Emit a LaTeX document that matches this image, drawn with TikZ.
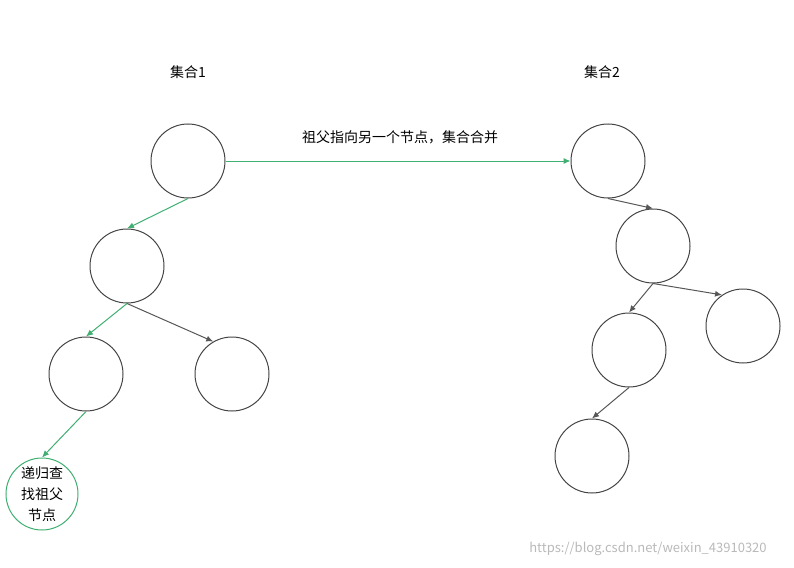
\documentclass[tikz,border=0pt]{standalone}
\usepackage{fontspec}
\setmainfont{Noto Sans CJK SC}
\usetikzlibrary{arrows.meta}
\definecolor{gr}{HTML}{3FAF72}
\definecolor{dk}{HTML}{444444}
\begin{document}
\begin{tikzpicture}[x=1pt,y=-1pt,font=\fontsize{14}{17}\selectfont,
  nd/.style={circle,draw=dk,line width=1pt,minimum size=74pt,inner sep=0pt},
  ga/.style={draw=gr,line width=1pt,-{Latex[length=7pt,width=6pt]}},
  da/.style={draw=dk!90,line width=1pt,-{Latex[length=7pt,width=6pt]}}]
\useasboundingbox (0,0) rectangle (794,567);
\node (l1) at (188,72) {集合1};
\node (l2) at (602,72) {集合2};
\node (lm) at (400,137) {祖父指向另一个节点，集合合并};
\node[nd] (r1) at (188,161) {};
\node[nd] (a) at (127,266) {};
\node[nd] (b) at (86,374) {};
\node[nd] (c) at (232,374) {};
\node[circle,draw=gr,line width=1pt,minimum size=72pt,inner sep=0pt,align=center,font=\fontsize{14}{21}\selectfont] (g) at (42,494) {递归查\\找祖父\\节点};
\node[nd] (r2) at (608,161) {};
\node[nd] (d) at (653,246) {};
\node[nd] (f) at (743,326) {};
\node[nd] (e) at (629,350) {};
\node[nd] (h) at (592,456) {};
\draw[ga] (r1.east) -- (r2.west);
\draw[ga] (r1.south) -- (a.north);
\draw[ga] (a.south) -- (b.north);
\draw[ga] (b.south) -- (g.north);
\draw[da] (a.south) -- (c.120);
\draw[da] (r2.south) -- (d.north);
\draw[da] (d.south) -- (e.north);
\draw[da] (d.south) -- (f.124);
\draw[da] (e.south) -- (h.north);
\node[text=gray!55,font=\fontsize{13}{15}\selectfont] (wm) at (648,549) {https://blog.csdn.net/weixin\_43910320};
\end{tikzpicture}
\end{document}
